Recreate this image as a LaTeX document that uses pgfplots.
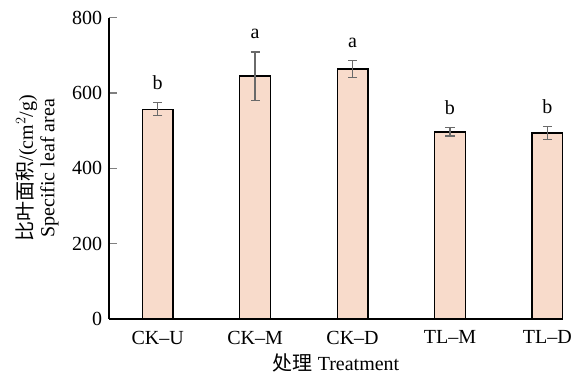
\documentclass[border=0pt]{standalone}
\usepackage{pgfplots}
\pgfplotsset{compat=1.18}
\usepackage{fontspec}
\setmainfont{Liberation Serif}
\newfontfamily\cjk{Noto Sans CJK SC}
\definecolor{barfill}{HTML}{F8DBCB}
\definecolor{errgray}{HTML}{6A6A6A}
\begin{document}
\fontsize{20pt}{24pt}\selectfont
\begin{tikzpicture}
\begin{axis}[
  scale only axis,
  width=454pt, height=301.3pt,
  xmin=-0.5, xmax=4.16,
  ymin=0, ymax=800,
  ytick={0,200,400,600,800},
  xtick={0,1,2,3,4},
  xticklabels={CK--U,CK--M,CK--D,TL--M,TL--D},
  axis x line=bottom, axis y line=left,
  axis line style={-, line width=1.3pt},
  tick align=inside,
  major tick length=8pt,
  xtick style={draw=none},
  ytick style={line width=1.3pt},
  tick label style={font=\fontsize{20pt}{24pt}\selectfont},
  xticklabel style={yshift=-5pt},
  /pgf/number format/assume math mode=true,
  xlabel={{\cjk 处理} Treatment},
  ylabel={\shortstack{{\cjk 比叶面积}/(cm$^{2}$/g)\\Specific leaf area}},
  label style={font=\fontsize{20pt}{24pt}\selectfont},
  xlabel style={yshift=-2pt, inner sep=1pt},
  ylabel style={align=center},
  clip=false,
]
\addplot[ybar, bar width=30.7pt, fill=barfill, draw=black, line width=1.4pt,
  error bars/.cd, y dir=both, y explicit,
  error bar style={errgray, line width=1.3pt},
  error mark options={rotate=90, mark size=4.6pt, errgray, line width=1.3pt}]
  table[x=x, y=y, y error=e] {
  x y e
  0 557 17
  1 645 64
  2 664 23
  3 497 11
  4 494 17
};
\addplot[draw=none, mark=none, nodes near coords, point meta=explicit symbolic,
  nodes near coords style={font=\fontsize{20pt}{24pt}\selectfont, anchor=south, yshift=6pt}]
  table[x=x, y=y, meta=l] {
  x y l
  0 574 b
  1 709 a
  2 687 a
  3 508 b
  4 511 b
};
\end{axis}
\pgfresetboundingbox
\useasboundingbox (-109pt,-58pt) rectangle (475pt,319pt);
\end{tikzpicture}
\end{document}
